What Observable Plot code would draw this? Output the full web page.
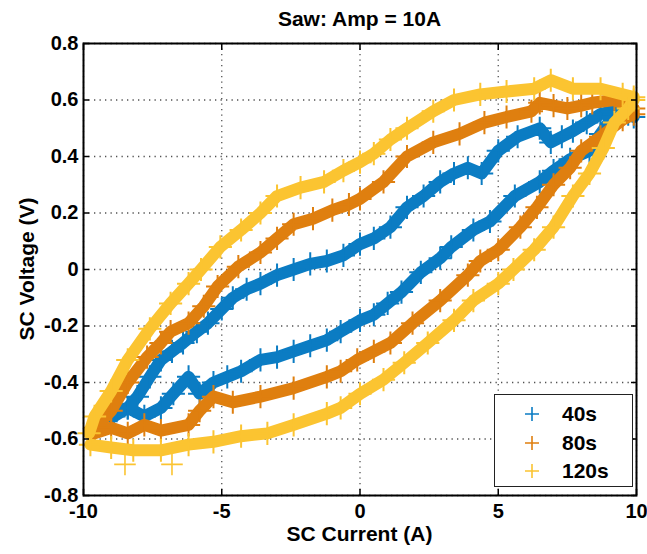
<!DOCTYPE html>
<html><head><meta charset="utf-8">
<script src="https://cdn.jsdelivr.net/npm/d3@7"></script>
<script src="https://cdn.jsdelivr.net/npm/@observablehq/plot@0.6"></script>
<style>
body{margin:0;background:#fff;font-family:"Liberation Sans",Arial,sans-serif;}
#wrap{position:relative;width:647px;height:554px;overflow:hidden;}
.lbl{position:absolute;font-weight:bold;font-size:21px;color:#000;white-space:nowrap;}
#title{left:83px;width:553px;top:7px;text-align:center;}
#xlabel{left:83px;width:553px;top:522px;text-align:center;}
#ylabel{left:27px;top:269px;transform:translate(-50%,-50%) rotate(-90deg);}
#legend{position:absolute;left:494px;top:394px;width:139px;height:93px;border:1px solid #222;background:#fff;box-sizing:border-box;}
.row{position:absolute;left:0;height:28px;width:100%;}
.row svg{position:absolute;left:30px;top:7px;}
.row span{position:absolute;left:67px;top:2px;font-weight:bold;font-size:21px;}
</style></head>
<body><div id="wrap"></div>
<script>
const title = "Saw: Amp = 10A";
const xLabel = "SC Current (A)";
const yLabel = "SC Voltage (V)";
const seriesNames = ["40s", "80s", "120s"];
const seriesColors = ["#0b7cc3", "#df7f0f", "#fbc431"];
const xTicks = [-10, -5, 0, 5, 10];
const yTicks = [-0.8, -0.6, -0.4, -0.2, 0, 0.2, 0.4, 0.6, 0.8];

// 40s loop: upper branch left->right, then lower branch right->left
const s40x = [-9.3,-8.8,-8.4,-8.05,-7.6,-7.2,-6.8,-6.4,-5.9,-5.5,-5.0,-4.6,-4.1,-3.6,-3.0,-2.4,-1.8,-1.2,-0.6,0.0,0.5,1.1,1.7,2.3,2.9,3.4,3.9,4.4,5.0,5.7,6.5,6.9,7.3,7.7,8.2,8.7,9.1,9.4,9.7,
  9.9,9.5,9.2,8.7,8.3,7.6,7.0,6.5,5.6,4.7,4.1,3.3,2.9,2.2,1.5,1.0,0.5,0.0,-0.7,-1.2,-1.8,-2.4,-3.0,-3.6,-4.3,-4.8,-5.3,-5.8,-6.2,-6.75,-7.2,-7.8,-8.4,-8.9,-9.3];
const s40y = [-0.52,-0.5,-0.49,-0.45,-0.38,-0.32,-0.29,-0.26,-0.22,-0.19,-0.14,-0.1,-0.07,-0.05,-0.02,0.0,0.02,0.03,0.05,0.09,0.11,0.15,0.22,0.26,0.31,0.34,0.36,0.34,0.42,0.47,0.50,0.45,0.47,0.49,0.52,0.55,0.56,0.57,0.55,
  0.54,0.56,0.55,0.48,0.42,0.39,0.35,0.31,0.26,0.17,0.14,0.08,0.04,-0.01,-0.08,-0.12,-0.16,-0.18,-0.22,-0.25,-0.27,-0.29,-0.31,-0.32,-0.36,-0.38,-0.40,-0.44,-0.38,-0.44,-0.49,-0.52,-0.49,-0.52,-0.52];

// 80s loop
const s80x = [-9.6,-9.0,-8.4,-7.7,-7.2,-6.85,-6.2,-5.65,-5.15,-4.4,-3.6,-3.0,-2.4,-1.7,-1.0,-0.4,0.0,0.85,1.7,2.65,3.6,4.5,5.3,6.2,6.5,7.0,7.5,8.0,8.4,9.2,9.9,
  9.9,9.5,8.7,8.0,7.6,7.0,6.4,5.8,5.0,4.35,3.9,2.9,1.9,1.1,0.5,-0.1,-0.7,-1.2,-2.4,-3.6,-4.6,-5.3,-5.8,-6.2,-7.2,-7.8,-8.4,-9.0,-9.6];
const s80y = [-0.56,-0.50,-0.40,-0.31,-0.26,-0.22,-0.19,-0.13,-0.06,0.01,0.06,0.11,0.16,0.18,0.21,0.23,0.25,0.31,0.40,0.45,0.48,0.52,0.54,0.56,0.59,0.58,0.57,0.58,0.59,0.60,0.57,
  0.55,0.53,0.47,0.42,0.36,0.30,0.22,0.15,0.07,0.03,-0.02,-0.11,-0.19,-0.26,-0.29,-0.32,-0.36,-0.38,-0.42,-0.45,-0.47,-0.45,-0.50,-0.55,-0.57,-0.55,-0.58,-0.56,-0.58];

// 120s loop
const s120x = [-9.8,-9.6,-9.0,-8.4,-7.6,-6.85,-6.2,-5.75,-5.05,-4.3,-3.6,-3.0,-2.15,-1.3,-0.6,0.0,0.5,1.1,1.7,2.65,3.4,4.35,5.3,6.3,6.9,7.7,8.7,9.5,9.9,
  9.9,9.7,9.2,8.8,8.3,7.7,7.0,6.3,5.55,5.0,4.1,3.4,2.45,1.6,0.85,0.0,-0.7,-1.2,-2.4,-3.35,-4.3,-5.3,-6.2,-7.2,-8.2,-9.0,-9.75];
const s120y = [-0.58,-0.52,-0.43,-0.32,-0.21,-0.12,-0.05,0.0,0.08,0.14,0.20,0.26,0.29,0.31,0.35,0.38,0.41,0.46,0.50,0.56,0.60,0.62,0.63,0.64,0.67,0.64,0.64,0.62,0.61,
  0.60,0.57,0.52,0.43,0.34,0.26,0.15,0.07,0.0,-0.05,-0.11,-0.18,-0.26,-0.33,-0.39,-0.44,-0.49,-0.51,-0.55,-0.58,-0.59,-0.61,-0.62,-0.64,-0.64,-0.63,-0.62];
const s120outX = [-8.5, -6.8];
const s120outY = [-0.69, -0.69];

const allX = [s40x, s80x, s120x];
const allY = [s40y, s80y, s120y];

const fmt = d => String(Math.round(d * 10) / 10);
const font = {fontSize: 20, fontWeight: "bold", fontFamily: "Liberation Sans, Arial, sans-serif"};

const marks = [
  Plot.gridX(xTicks, {stroke: "#333", strokeOpacity: 0.85, strokeWidth: 1.3, strokeDasharray: "1.3,4.2"}),
  Plot.gridY(yTicks, {stroke: "#333", strokeOpacity: 0.85, strokeWidth: 1.3, strokeDasharray: "1.3,4.2"})
];
seriesNames.forEach((name, i) => {
  const data = allX[i].map((x, j) => ({x, y: allY[i][j]}));
  marks.push(Plot.line(data, {x: "x", y: "y", stroke: seriesColors[i], strokeWidth: 12, strokeLinejoin: "round", strokeLinecap: "round"}));
  marks.push(Plot.dot(data, {x: "x", y: "y", symbol: "plus", r: 7.5, stroke: seriesColors[i], strokeWidth: 2}));
  if (i === 2) {
    const out = s120outX.map((x, j) => ({x, y: s120outY[j]}));
    marks.push(Plot.dot(out, {x: "x", y: "y", symbol: "plus", r: 7, stroke: seriesColors[i], strokeWidth: 1.6}));
  }
});
marks.push(
  Plot.frame({stroke: "#000", strokeWidth: 2}),
  Plot.axisX(xTicks, {anchor: "bottom", tickSize: -6, tickPadding: 14, tickFormat: fmt, label: null, stroke: "#000", strokeWidth: 1.5, ...font}),
  Plot.axisX(xTicks, {anchor: "top", tickSize: -6, fill: "none", label: null, stroke: "#000", strokeWidth: 1.5}),
  Plot.axisY(yTicks, {anchor: "left", tickSize: -6, tickPadding: 11, tickFormat: fmt, label: null, stroke: "#000", strokeWidth: 1.5, ...font}),
  Plot.axisY(yTicks, {anchor: "right", tickSize: -6, fill: "none", label: null, stroke: "#000", strokeWidth: 1.5})
);

const chart = Plot.plot({
  width: 647, height: 554,
  marginLeft: 83, marginRight: 11, marginTop: 43, marginBottom: 59,
  x: {domain: [-10, 10]},
  y: {domain: [-0.8, 0.8]},
  style: {fontFamily: "Liberation Sans, Arial, sans-serif", fontSize: "20px", fontWeight: "bold", color: "#000", background: "#fff"},
  marks
});

const wrap = document.getElementById("wrap");
wrap.appendChild(chart);
chart.style.position = "absolute"; chart.style.left = "0"; chart.style.top = "0";

function addLabel(id, text) {
  const d = document.createElement("div");
  d.className = "lbl"; d.id = id; d.textContent = text;
  wrap.appendChild(d);
}
addLabel("title", title);
addLabel("xlabel", xLabel);
addLabel("ylabel", yLabel);

const leg = document.createElement("div");
leg.id = "legend";
seriesNames.forEach((name, i) => {
  const row = document.createElement("div");
  row.className = "row";
  row.style.top = (5 + i * 28.5) + "px";
  row.innerHTML = `<svg width="14" height="14"><path d="M0,7H14M7,0V14" stroke="${seriesColors[i]}" stroke-width="1.6"/></svg><span>${name}</span>`;
  leg.appendChild(row);
});
wrap.appendChild(leg);
</script>
</body></html>
